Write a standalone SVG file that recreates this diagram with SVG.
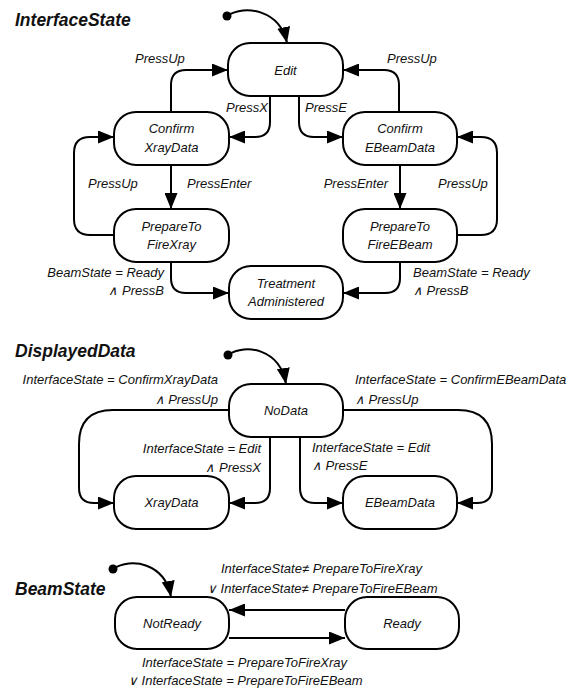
<svg xmlns="http://www.w3.org/2000/svg" width="580" height="689" viewBox="0 0 580 689">
<style>
.n{fill:#fff;stroke:#000;stroke-width:2}
.c{fill:none;stroke:#000;stroke-width:2;marker-end:url(#ah)}
.i{fill:none;stroke:#000;stroke-width:2;marker-end:url(#ah)}
text{font-family:"Liberation Sans",Arial,sans-serif;font-style:italic;font-size:13px;fill:#111}
.t{font-weight:bold;font-size:17.5px}
.m{text-anchor:middle}
.e{text-anchor:end}
</style>
<defs>
<marker id="ah" markerUnits="userSpaceOnUse" markerWidth="16" markerHeight="13" refX="16" refY="6.5" orient="auto">
<path d="M0,0 L16,6.5 L0,13 z" fill="#000"/>
</marker>
</defs>

<rect width="580" height="689" fill="#fff"/>

<text class="t" x="15" y="26">InterfaceState</text>
<text class="t" x="15" y="357">DisplayedData</text>
<text class="t" x="15" y="595">BeamState</text>

<g id="connectors">
<circle cx="227" cy="16" r="4.5" fill="#000"/>
<path class="i" d="M227 16 C245 4,280 10,287 43"/>
<path class="c" d="M270 96 V122 Q270 137 255 137 H229"/>
<path class="c" d="M171 112 V85 Q171 70 186 70 H228"/>
<path class="c" d="M299 96 V122 Q299 137 314 137 H343"/>
<path class="c" d="M399 112 V85 Q399 70 384 70 H343"/>
<path class="c" d="M171 165 V209"/>
<path class="c" d="M114 235 H90 Q74 235 74 219 V153 Q74 137 90 137 H114"/>
<path class="c" d="M400 165 V209"/>
<path class="c" d="M457 235 H481 Q497 235 497 219 V153 Q497 137 481 137 H457"/>
<path class="c" d="M171 262 V278 Q171 293 186 293 H229"/>
<path class="c" d="M400 262 V278 Q400 293 385 293 H343"/>

<circle cx="228" cy="355" r="4.5" fill="#000"/>
<path class="i" d="M228 355 C246 343,280 349,286 384"/>
<path class="c" d="M229 410 H113 Q79 410 79 444 V488 Q79 503 94 503 H114"/>
<path class="c" d="M270 437 V488 Q270 503 255 503 H229"/>
<path class="c" d="M300 437 V488 Q300 503 315 503 H343"/>
<path class="c" d="M343 410 H458 Q492 410 492 444 V488 Q492 503 477 503 H457"/>

<circle cx="113" cy="569" r="4.5" fill="#000"/>
<path class="i" d="M113 569 C131 557,165 563,171 597"/>
<path class="c" d="M345 610 H229"/>
<path class="c" d="M229 638 H345"/>
</g>

<g id="labels">
<text x="135" y="63">PressUp</text>
<text class="e" x="268" y="112">PressX</text>
<text x="387" y="63">PressUp</text>
<text x="305" y="112">PressE</text>
<text x="88" y="188">PressUp</text>
<text x="187" y="188">PressEnter</text>
<text class="e" x="388" y="188">PressEnter</text>
<text x="438" y="188">PressUp</text>
<text class="e" x="164" y="277">BeamState = Ready</text>
<text class="e" x="164" y="295">∧ PressB</text>
<text x="413" y="277">BeamState = Ready</text>
<text x="413" y="295">∧ PressB</text>

<text class="e" x="218" y="384">InterfaceState = ConfirmXrayData</text>
<text class="e" x="218" y="404">∧ PressUp</text>
<text class="e" x="261" y="453">InterfaceState = Edit</text>
<text class="e" x="261" y="472">∧ PressX</text>
<text x="355" y="384">InterfaceState = ConfirmEBeamData</text>
<text x="355" y="404">∧ PressUp</text>
<text x="312" y="452">InterfaceState = Edit</text>
<text x="312" y="470">∧ PressE</text>

<text x="221" y="573">InterfaceState≠ PrepareToFireXray</text>
<text x="207" y="593">∨ InterfaceState≠ PrepareToFireEBeam</text>
<text x="142" y="667">InterfaceState = PrepareToFireXray</text>
<text x="128" y="685">∨ InterfaceState = PrepareToFireEBeam</text>
</g>

<g id="Edit"><rect class="n" x="228" y="43" width="115" height="53" rx="22"/><text class="m" x="285.5" y="75">Edit</text></g>
<g id="ConfirmXrayData"><rect class="n" x="114" y="112" width="115" height="53" rx="22"/><text class="m" x="171.5" y="133">Confirm</text><text class="m" x="171.5" y="152">XrayData</text></g>
<g id="ConfirmEBeamData"><rect class="n" x="343" y="112" width="114" height="53" rx="22"/><text class="m" x="400" y="133">Confirm</text><text class="m" x="400" y="152">EBeamData</text></g>
<g id="PrepareToFireXray"><rect class="n" x="114" y="209" width="115" height="53" rx="22"/><text class="m" x="171.5" y="231">PrepareTo</text><text class="m" x="171.5" y="249">FireXray</text></g>
<g id="PrepareToFireEBeam"><rect class="n" x="343" y="209" width="114" height="53" rx="22"/><text class="m" x="400" y="231">PrepareTo</text><text class="m" x="400" y="249">FireEBeam</text></g>
<g id="TreatmentAdministered"><rect class="n" x="229" y="266" width="114" height="53" rx="22"/><text class="m" x="286" y="288">Treatment</text><text class="m" x="286" y="306">Administered</text></g>

<g id="NoData"><rect class="n" x="229" y="384" width="114" height="53" rx="22"/><text class="m" x="286" y="415">NoData</text></g>
<g id="XrayData"><rect class="n" x="114" y="476" width="115" height="53" rx="22"/><text class="m" x="171.5" y="507">XrayData</text></g>
<g id="EBeamData"><rect class="n" x="343" y="476" width="114" height="53" rx="22"/><text class="m" x="400" y="507">EBeamData</text></g>

<g id="NotReady"><rect class="n" x="115" y="597" width="114" height="52" rx="22"/><text class="m" x="172" y="628">NotReady</text></g>
<g id="Ready"><rect class="n" x="345" y="597" width="114" height="52" rx="22"/><text class="m" x="402" y="628">Ready</text></g>
</svg>
